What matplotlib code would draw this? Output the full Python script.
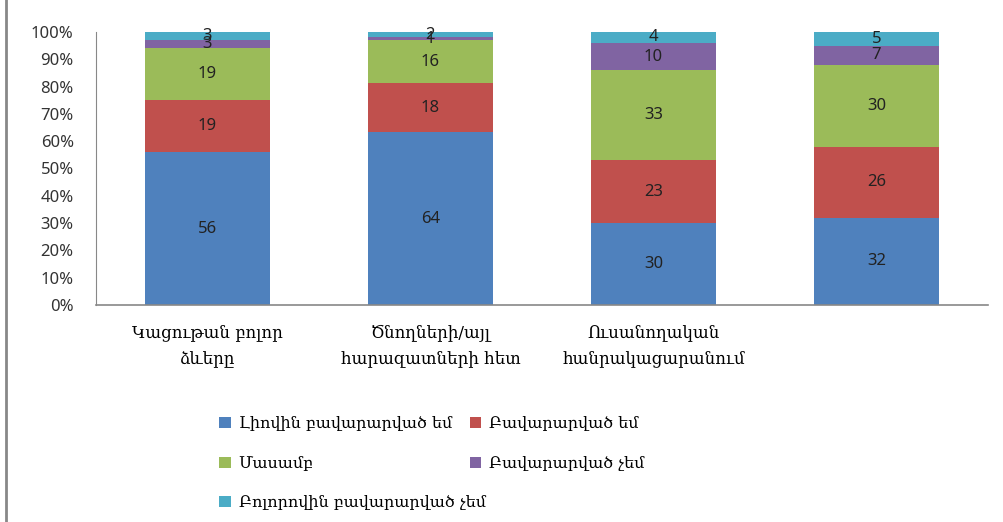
import numpy as np
import matplotlib.pyplot as plt
from matplotlib.lines import Line2D

categories = ['Կացութան բոլոր\nձևերը',
              'Ծնողների/այլ\nհարազատների հետ',
              'Ուսանողական\nհանրակացարանում',
              '']
series_names = ['Լիովին բավարարված եմ', 'Բավարարված եմ', 'Մասամբ',
                'Բավարարված չեմ', 'Բոլորովին բավարարված չեմ']
very_satisfied = [56, 64, 30, 32]
satisfied = [19, 18, 23, 26]
partly = [19, 16, 33, 30]
not_satisfied = [3, 1, 10, 7]
not_at_all = [3, 2, 4, 5]
colors = ['#4F81BD', '#C0504D', '#9BBB59', '#8064A2', '#4BACC6']

data = np.array([very_satisfied, satisfied, partly, not_satisfied, not_at_all], dtype=float)
shares = data / data.sum(axis=0) * 100

armen = ['DejaVu Serif', 'DejaVu Sans']

fig = plt.figure(figsize=(10.04, 5.22), dpi=100)
ax = fig.add_axes([96 / 1004, 1 - 305 / 522, 892 / 1004, 273 / 522])

x = np.arange(len(categories))
bottom = np.zeros(len(categories))
handles = []
for i in range(len(series_names)):
    bars = ax.bar(x, shares[i], 0.565, bottom=bottom, color=colors[i],
                  label=series_names[i], zorder=2)
    handles.append(bars)
    for j in range(len(categories)):
        ax.text(x[j], bottom[j] + shares[i][j] / 2, '%d' % data[i][j],
                ha='center', va='center', fontsize=12, color='#222222',
                family='Noto Sans')
    bottom += shares[i]

ax.set_xlim(-0.5, 3.5)
ax.set_ylim(0, 100)
ax.set_yticks(np.arange(0, 101, 10))
ax.set_yticklabels(['%d%%' % v for v in range(0, 101, 10)], family='Noto Sans',
                   fontsize=12, color='#333333')
ax.set_xticks(x)
ax.set_xticklabels(categories, family=armen, fontsize=12, linespacing=1.7)
ax.tick_params(axis='x', length=0, pad=14)
ax.tick_params(axis='y', length=0, pad=16)
for s in ['top', 'right']:
    ax.spines[s].set_visible(False)
ax.spines['left'].set_color('#888888')
ax.spines['bottom'].set_color('#888888')
ax.spines['bottom'].set_linewidth(1.2)

order = [0, 2, 4, 1, 3]
leg = fig.legend([handles[k] for k in order], [series_names[k] for k in order],
                 ncol=2, loc='upper left', bbox_to_anchor=(205 / 1004, 1 - 401 / 522),
                 frameon=False, prop={'family': armen, 'size': 11.5},
                 handlelength=0.7, handleheight=0.7, handletextpad=0.5,
                 labelspacing=1.4, columnspacing=-1.0)

fig.add_artist(Line2D([6 / 1004, 6 / 1004], [0, 1], color='#888888', lw=2))

fig.savefig('out.png', dpi=100)
